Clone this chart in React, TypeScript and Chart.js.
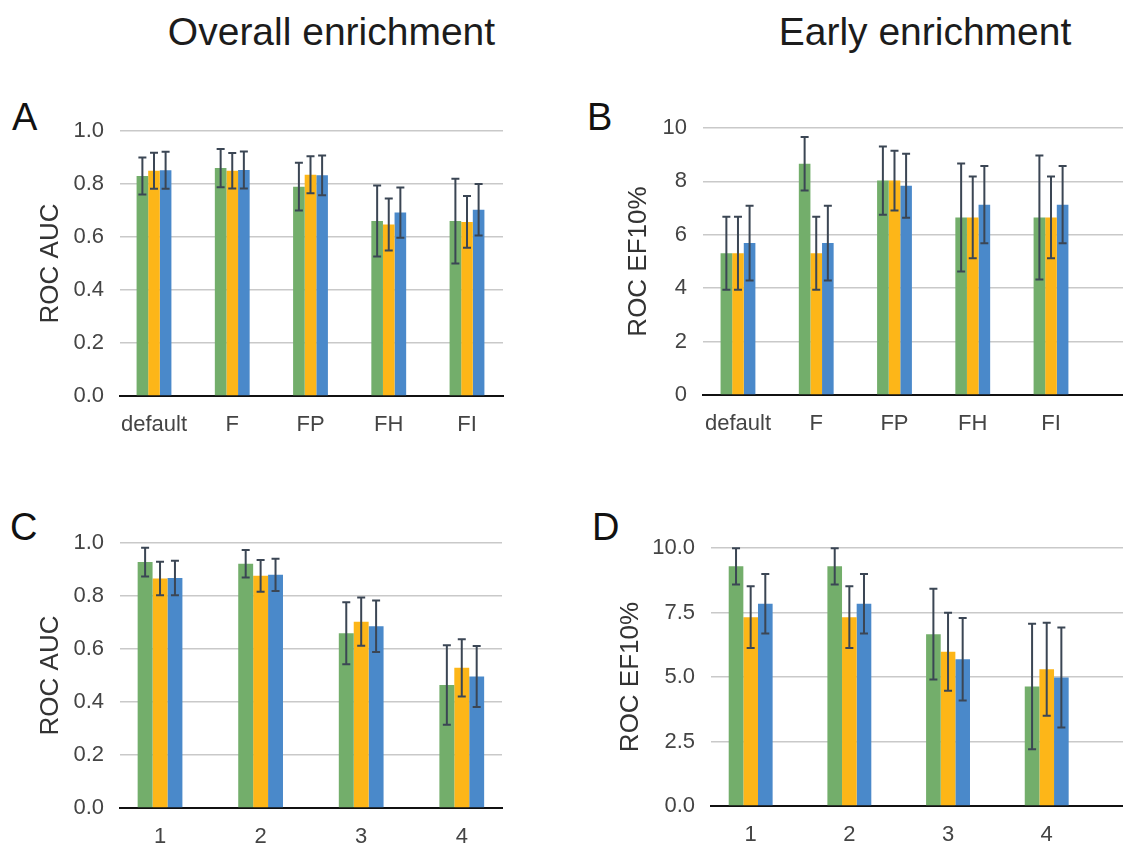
import React, { useEffect, useRef } from "react";
import { Chart, registerables } from "chart.js";

Chart.register(...registerables);

const FONT = "'Liberation Sans', Arial, Helvetica, sans-serif";

// ---------- data ----------
const categoriesAB = ["default", "F", "FP", "FH", "FI"];
const categoriesCD = ["1", "2", "3", "4"];

const aGreen = [0.83, 0.86, 0.79, 0.66, 0.66];
const aGreenErr = [0.07, 0.072, 0.09, 0.134, 0.16];
const aOrange = [0.85, 0.85, 0.835, 0.647, 0.657];
const aOrangeErr = [0.068, 0.067, 0.07, 0.098, 0.098];
const aBlue = [0.852, 0.853, 0.833, 0.692, 0.703];
const aBlueErr = [0.07, 0.07, 0.075, 0.095, 0.097];

const bGreen = [5.31, 8.66, 8.03, 6.65, 6.65];
const bGreenErr = [1.37, 1.0, 1.28, 2.02, 2.32];
const bOrange = [5.31, 5.31, 8.03, 6.65, 6.65];
const bOrangeErr = [1.37, 1.37, 1.12, 1.53, 1.53];
const bBlue = [5.69, 5.69, 7.84, 7.13, 7.13];
const bBlueErr = [1.4, 1.4, 1.2, 1.45, 1.45];

const cGreen = [0.928, 0.922, 0.659, 0.464];
const cGreenErr = [0.054, 0.052, 0.117, 0.15];
const cOrange = [0.866, 0.876, 0.703, 0.529];
const cOrangeErr = [0.063, 0.06, 0.091, 0.108];
const cBlue = [0.868, 0.88, 0.686, 0.496];
const cBlueErr = [0.065, 0.061, 0.097, 0.115];

const dGreen = [9.29, 9.29, 6.66, 4.63];
const dGreenErr = [0.7, 0.7, 1.76, 2.43];
const dOrange = [7.32, 7.32, 5.98, 5.3];
const dOrangeErr = [1.2, 1.2, 1.51, 1.8];
const dBlue = [7.84, 7.84, 5.69, 4.98];
const dBlueErr = [1.15, 1.15, 1.6, 1.94];

const GREEN = "#73AE6B";
const ORANGE = "#FDB618";
const BLUE = "#4A89CA";
const ERR = "#3b4654";

// ---------- error bar plugin ----------
const errorBarPlugin = {
  id: "errorBars",
  afterDatasetsDraw(chart: any) {
    const ctx = chart.ctx;
    const yScale = chart.scales.y;
    ctx.save();
    ctx.strokeStyle = ERR;
    ctx.lineWidth = 2;
    chart.data.datasets.forEach((ds: any, di: number) => {
      const meta = chart.getDatasetMeta(di);
      const errs: number[] = ds.errors || [];
      meta.data.forEach((el: any, i: number) => {
        const v = ds.data[i].y;
        const e = errs[i];
        if (e == null) return;
        const x = el.x;
        const yt = yScale.getPixelForValue(v + e);
        const yb = yScale.getPixelForValue(v - e);
        const cap = 4;
        ctx.beginPath();
        ctx.moveTo(x, yt);
        ctx.lineTo(x, yb);
        ctx.moveTo(x - cap, yt);
        ctx.lineTo(x + cap, yt);
        ctx.moveTo(x - cap, yb);
        ctx.lineTo(x + cap, yb);
        ctx.stroke();
      });
    });
    ctx.restore();
  },
};

type Spec = {
  left: number;
  top: number;
  w: number;
  h: number;
  yWidth: number;
  padTop: number;
  padRight: number;
  xHeight: number;
  xMin: number;
  xMax: number;
  yMax: number;
  yStep: number;
  yDecimals: number;
  yTitle: string;
  yTitlePad: number;
  cats: string[];
  series: { data: number[]; err: number[]; color: string }[];
};

function BarPanel({ spec }: { spec: Spec }) {
  const ref = useRef<HTMLCanvasElement>(null);
  useEffect(() => {
    const datasets = spec.series.map((s) => ({
      data: s.data.map((v, i) => ({ x: i, y: v })),
      errors: s.err,
      backgroundColor: s.color,
      borderWidth: 0,
      categoryPercentage: 0.445,
      barPercentage: 1.0,
    }));
    const chart = new Chart(ref.current!, {
      type: "bar",
      data: { datasets } as any,
      plugins: [errorBarPlugin],
      options: {
        responsive: false,
        animation: false,
        layout: { padding: { top: spec.padTop, right: spec.padRight, left: 0, bottom: 0 } },
        plugins: { legend: { display: false }, tooltip: { enabled: false } },
        scales: {
          x: {
            type: "linear",
            offset: false,
            min: spec.xMin,
            max: spec.xMax,
            grid: { display: false, drawTicks: false, offset: false },
            border: { display: true, color: "#111111", width: 2 },
            ticks: {
              stepSize: 1,
              includeBounds: false,
              autoSkip: false,
              maxRotation: 0,
              padding: 16,
              color: "#444444",
              font: { family: FONT, size: 22 },
              callback: (v: any) => (Number.isInteger(v) ? spec.cats[v] ?? "" : ""),
            },
            afterFit: (scale: any) => {
              scale.height = spec.xHeight;
            },
          },
          y: {
            type: "linear",
            min: 0,
            max: spec.yMax,
            grid: { color: "#c9c9c9", lineWidth: 1.5, drawTicks: false },
            border: { display: false },
            ticks: {
              stepSize: spec.yStep,
              padding: 16,
              color: "#444444",
              font: { family: FONT, size: 22 },
              callback: (v: any) => Number(v).toFixed(spec.yDecimals),
            },
            title: {
              display: true,
              text: spec.yTitle,
              color: "#333333",
              font: { family: FONT, size: 26 },
              padding: { top: spec.yTitlePad, bottom: 0 },
            },
            afterFit: (scale: any) => {
              scale.width = spec.yWidth;
            },
          },
        },
      } as any,
    });
    return () => chart.destroy();
  }, [spec]);
  return (
    <canvas
      ref={ref}
      width={spec.w}
      height={spec.h}
      style={{ position: "absolute", left: spec.left, top: spec.top, width: spec.w, height: spec.h }}
    />
  );
}

const specA: Spec = {
  left: 0, top: 95, w: 560, h: 360, yWidth: 120, padTop: 36, padRight: 57, xHeight: 59,
  xMin: -0.4345, xMax: 4.46, yMax: 1, yStep: 0.2, yDecimals: 1, yTitle: "ROC AUC", yTitlePad: 35,
  cats: categoriesAB,
  series: [
    { data: aGreen, err: aGreenErr, color: GREEN },
    { data: aOrange, err: aOrangeErr, color: ORANGE },
    { data: aBlue, err: aBlueErr, color: BLUE },
  ],
};

const specB: Spec = {
  left: 560, top: 95, w: 563, h: 360, yWidth: 143, padTop: 33, padRight: 0, xHeight: 60,
  xMin: -0.447, xMax: 4.92, yMax: 10, yStep: 2, yDecimals: 0, yTitle: "ROC EF10%", yTitlePad: 63.6,
  cats: categoriesAB,
  series: [
    { data: bGreen, err: bGreenErr, color: GREEN },
    { data: bOrange, err: bOrangeErr, color: ORANGE },
    { data: bBlue, err: bBlueErr, color: BLUE },
  ],
};

const specC: Spec = {
  left: 0, top: 500, w: 560, h: 346, yWidth: 120, padTop: 43, padRight: 58, xHeight: 38,
  xMin: -0.398, xMax: 3.4, yMax: 1, yStep: 0.2, yDecimals: 1, yTitle: "ROC AUC", yTitlePad: 35,
  cats: categoriesCD,
  series: [
    { data: cGreen, err: cGreenErr, color: GREEN },
    { data: cOrange, err: cOrangeErr, color: ORANGE },
    { data: cBlue, err: cBlueErr, color: BLUE },
  ],
};

const specD: Spec = {
  left: 560, top: 500, w: 563, h: 346, yWidth: 151, padTop: 48, padRight: 0, xHeight: 40,
  xMin: -0.402, xMax: 3.773, yMax: 10, yStep: 2.5, yDecimals: 1, yTitle: "ROC EF10%", yTitlePad: 55.6,
  cats: categoriesCD,
  series: [
    { data: dGreen, err: dGreenErr, color: GREEN },
    { data: dOrange, err: dOrangeErr, color: ORANGE },
    { data: dBlue, err: dBlueErr, color: BLUE },
  ],
};

const textBase: React.CSSProperties = {
  position: "absolute",
  fontFamily: FONT,
  whiteSpace: "nowrap",
  margin: 0,
};

export default function App() {
  return (
    <div
      style={{
        position: "absolute",
        left: 0,
        top: 0,
        width: 1123,
        height: 846,
        overflow: "hidden",
        background: "#ffffff",
      }}
    >
      <div style={{ ...textBase, left: 331.5, top: 12, fontSize: 39, lineHeight: "39px", color: "#1c1c1c", transform: "translateX(-50%)" }}>
        Overall enrichment
      </div>
      <div style={{ ...textBase, left: 925, top: 12, fontSize: 39, lineHeight: "39px", color: "#1c1c1c", transform: "translateX(-50%)" }}>
        Early enrichment
      </div>
      <div style={{ ...textBase, left: 12, top: 98, fontSize: 38, lineHeight: "38px", color: "#111" }}>A</div>
      <div style={{ ...textBase, left: 587, top: 98, fontSize: 38, lineHeight: "38px", color: "#111" }}>B</div>
      <div style={{ ...textBase, left: 10, top: 508, fontSize: 38, lineHeight: "38px", color: "#111" }}>C</div>
      <div style={{ ...textBase, left: 592, top: 508, fontSize: 38, lineHeight: "38px", color: "#111" }}>D</div>
      <BarPanel spec={specA} />
      <BarPanel spec={specB} />
      <BarPanel spec={specC} />
      <BarPanel spec={specD} />
    </div>
  );
}
